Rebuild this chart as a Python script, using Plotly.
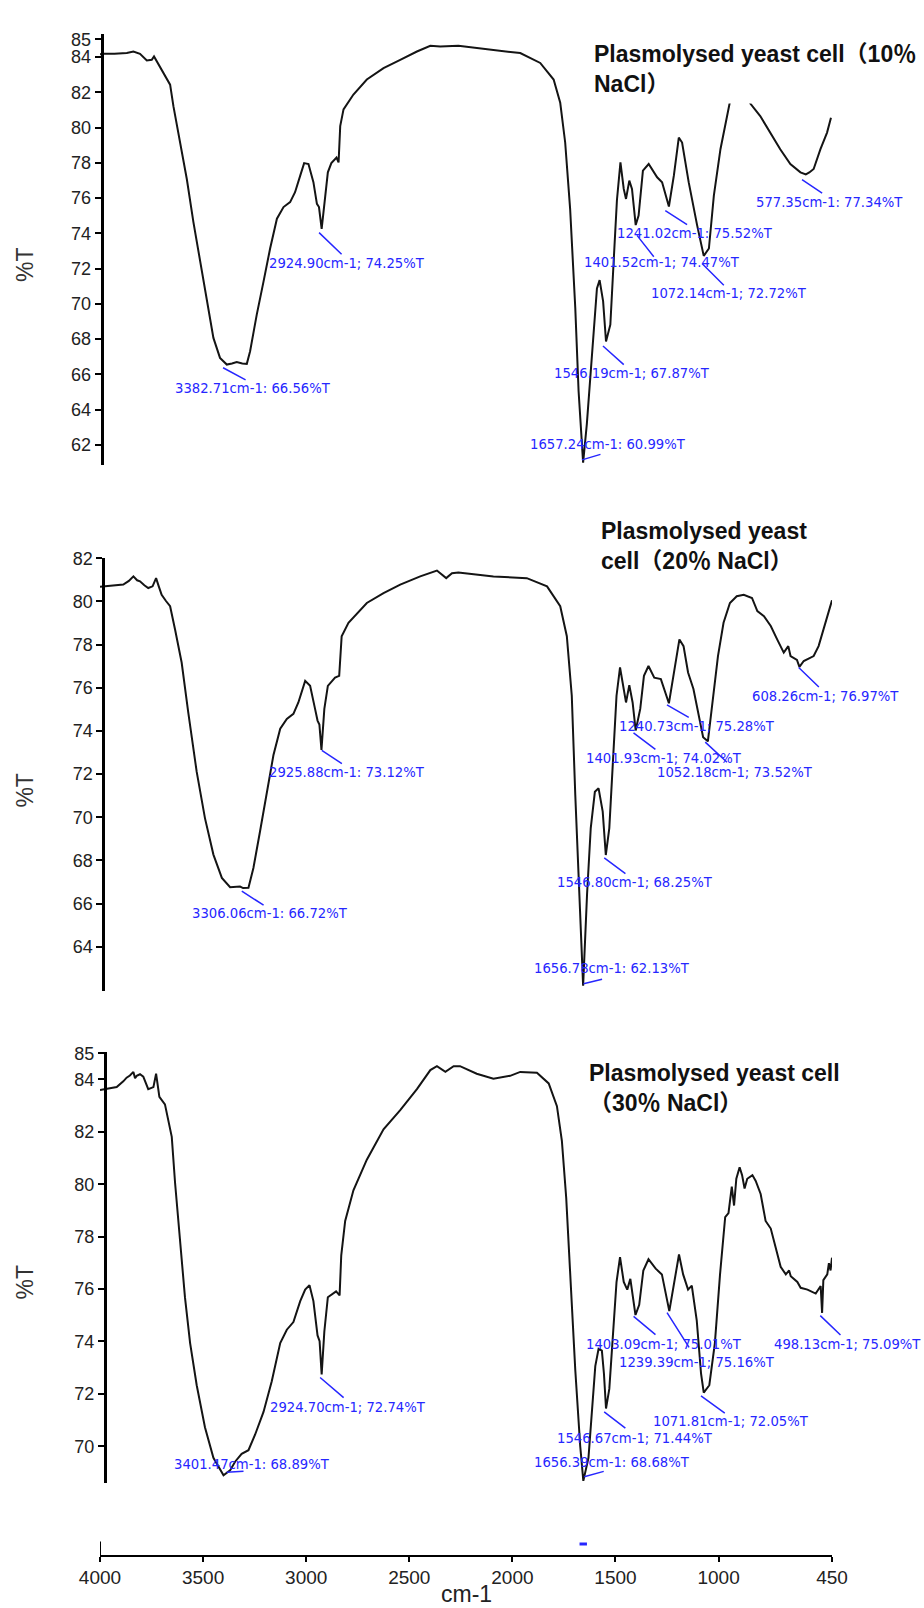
import plotly.graph_objects as go

# ---------------- data ----------------
wn1 = [4000, 3984, 3930, 3870, 3838, 3806, 3773, 3749, 3738, 3725, 3693, 3660, 3644, 3612, 3579, 3547,
       3515, 3482, 3450, 3418, 3385, 3360, 3337, 3310, 3288, 3272, 3240, 3207, 3175, 3142, 3110, 3078,
       3054, 3029, 3010, 2989, 2965, 2948, 2938, 2925, 2912, 2895, 2878, 2853, 2843, 2835, 2819, 2771,
       2706, 2625, 2544, 2463, 2398, 2350, 2262, 2092, 1962, 1865, 1800, 1768, 1744, 1720, 1695, 1679,
       1666, 1657, 1639, 1622, 1606, 1590, 1577, 1560, 1546, 1525, 1509, 1493, 1476, 1460, 1449, 1433,
       1420, 1402, 1388, 1367, 1339, 1298, 1274, 1241, 1217, 1193, 1177, 1145, 1104, 1072, 1047, 1023,
       991, 966, 946, 920, 895, 870, 846, 798, 749, 701, 652, 603, 577, 560, 539, 506, 474, 455]
t1 = [84.15, 84.18, 84.18, 84.22, 84.31, 84.18, 83.80, 83.84, 84.03, 83.75, 83.09, 82.43, 81.21, 79.15, 77.08, 74.64,
      72.39, 70.14, 68.07, 66.94, 66.56, 66.62, 66.70, 66.62, 66.60, 67.32, 69.38, 71.26, 73.14, 74.83, 75.49, 75.77,
      76.33, 77.27, 77.98, 77.93, 76.90, 75.67, 75.49, 74.25, 75.58, 77.46, 77.98, 78.30, 78.02, 80.08, 81.03, 81.87,
      82.72, 83.37, 83.84, 84.31, 84.63, 84.59, 84.63, 84.41, 84.22, 83.66, 82.72, 81.40, 79.15, 75.39, 69.76, 65.06,
      62.25, 61.00, 63.18, 66.00, 68.82, 70.88, 71.35, 70.14, 67.87, 68.82, 72.39, 75.89, 78.02, 76.52, 75.95, 76.99,
      76.52, 74.47, 75.01, 77.55, 77.93, 77.18, 76.90, 75.52, 77.27, 79.43, 79.15, 76.90, 74.45, 72.72, 73.14, 76.14,
      78.77, 80.28, 81.40, 82.30, 82.60, 82.20, 81.36, 80.65, 79.71, 78.77, 77.93, 77.46, 77.34, 77.45, 77.65, 78.77, 79.71, 80.56]

wn2 = [4000, 3976, 3930, 3887, 3860, 3838, 3820, 3806, 3785, 3766, 3745, 3728, 3715, 3701, 3680, 3660,
       3636, 3604, 3572, 3531, 3491, 3450, 3409, 3369, 3321, 3306, 3280, 3256, 3224, 3191, 3159, 3126,
       3094, 3062, 3038, 3005, 2981, 2957, 2945, 2936, 2926, 2912, 2895, 2860, 2840, 2828, 2795, 2706,
       2625, 2544, 2447, 2366, 2350, 2321, 2293, 2262, 2092, 1930, 1832, 1768, 1736, 1712, 1695, 1675,
       1664, 1657, 1638, 1620, 1600, 1582, 1562, 1547, 1530, 1513, 1495, 1478, 1460, 1449, 1433, 1417,
       1402, 1380, 1362, 1340, 1312, 1280, 1241, 1213, 1190, 1170, 1148, 1122, 1098, 1075, 1052, 1030,
       1003, 976, 945, 912, 878, 838, 812, 780, 747, 716, 684, 662, 651, 620, 608, 587, 539, 515, 482, 450]
t2 = [80.68, 80.70, 80.72, 80.78, 80.95, 81.16, 80.98, 80.93, 80.75, 80.62, 80.70, 81.08, 80.70, 80.31, 80.02, 79.78,
      78.70, 77.17, 74.86, 72.10, 69.96, 68.27, 67.19, 66.76, 66.79, 66.72, 66.73, 67.65, 69.34, 71.18, 72.87, 74.10,
      74.56, 74.79, 75.32, 76.32, 76.09, 75.02, 74.48, 74.30, 73.12, 75.02, 76.09, 76.47, 76.55, 78.39, 79.01, 79.93,
      80.39, 80.78, 81.16, 81.43, 81.31, 81.08, 81.31, 81.34, 81.16, 81.08, 80.70, 79.78, 78.39, 75.63, 71.03, 66.42,
      63.05, 62.20, 66.42, 69.50, 71.18, 71.34, 70.26, 68.25, 69.50, 72.56, 75.63, 76.94, 75.94, 75.32, 76.12, 75.32,
      74.02, 75.02, 76.55, 77.01, 76.47, 76.40, 75.28, 76.86, 78.24, 77.93, 76.71, 75.94, 74.71, 73.71, 73.52, 75.32,
      77.47, 79.01, 79.93, 80.24, 80.31, 80.16, 79.55, 79.32, 78.86, 78.24, 77.63, 77.93, 77.47, 77.29, 76.97, 77.24,
      77.47, 77.93, 79.01, 80.05]

wn3 = [4000, 3971, 3919, 3887, 3871, 3855, 3838, 3830, 3822, 3806, 3790, 3766, 3741, 3728, 3712, 3685,
       3669, 3652, 3636, 3612, 3588, 3563, 3531, 3491, 3450, 3401, 3369, 3345, 3313, 3280, 3248, 3207,
       3167, 3126, 3094, 3062, 3029, 3005, 2984, 2965, 2945, 2935, 2925, 2912, 2895, 2855, 2838, 2830,
       2811, 2771, 2706, 2625, 2544, 2463, 2398, 2366, 2325, 2285, 2254, 2173, 2092, 2011, 1962, 1881,
       1824, 1784, 1760, 1739, 1719, 1695, 1671, 1656, 1631, 1614, 1598, 1582, 1566, 1556, 1546, 1530,
       1513, 1495, 1478, 1460, 1443, 1428, 1403, 1385, 1365, 1340, 1305, 1275, 1239, 1212, 1192, 1172,
       1148, 1130, 1106, 1085, 1072, 1045, 1018, 993, 968, 952, 936, 925, 914, 898, 886, 874,
       861, 836, 820, 796, 772, 747, 723, 699, 674, 658, 650, 618, 602, 569, 529, 505,
       498, 492, 473, 465, 457, 450]
t3 = [83.60, 83.63, 83.71, 83.93, 84.07, 84.15, 84.29, 84.05, 84.14, 84.20, 84.11, 83.63, 83.71, 84.22, 83.34, 83.05,
      82.39, 81.81, 80.06, 78.02, 75.69, 73.94, 72.33, 70.73, 69.56, 68.89, 69.08, 69.41, 69.71, 69.85, 70.44, 71.31,
      72.48, 73.94, 74.45, 74.74, 75.54, 75.98, 76.15, 75.54, 74.23, 74.01, 72.74, 74.38, 75.69, 75.91, 75.76, 77.29,
      78.60, 79.77, 80.94, 82.10, 82.83, 83.63, 84.36, 84.51, 84.29, 84.51, 84.51, 84.22, 84.03, 84.14, 84.29, 84.26,
      83.85, 82.98, 81.66, 79.48, 76.56, 72.91, 70.00, 68.68, 69.56, 71.46, 73.06, 73.72, 73.65, 72.77, 71.44, 72.19,
      74.23, 76.27, 77.22, 76.27, 75.98, 76.39, 75.01, 75.40, 76.71, 77.14, 76.78, 76.56, 75.16, 76.41, 77.32, 76.56,
      75.98, 76.13, 74.81, 72.77, 72.05, 72.33, 73.94, 76.56, 78.75, 78.90, 79.91, 79.19, 80.21, 80.65, 80.35, 79.84,
      80.21, 80.35, 80.13, 79.63, 78.60, 78.31, 77.58, 76.85, 76.56, 76.71, 76.49, 76.27, 76.05, 75.98, 75.83, 76.12,
      75.09, 76.34, 76.56, 76.99, 76.71, 77.20]

# peak labels (wavenumber, %T, separator)
pk1_wn = [3382.71, 2924.90, 1657.24, 1546.19, 1401.52, 1241.02, 1072.14, 577.35]
pk1_t = [66.56, 74.25, 60.99, 67.87, 74.47, 75.52, 72.72, 77.34]
pk1_sep = [":", ";", ":", ";", ";", ":", ";", ":"]
pk2_wn = [2925.88, 3306.06, 1656.78, 1546.80, 1401.93, 1240.73, 1052.18, 608.26]
pk2_t = [73.12, 66.72, 62.13, 68.25, 74.02, 75.28, 73.52, 76.97]
pk2_sep = [":", ":", ":", ";", ";", ";", ";", ";"]
pk3_wn = [3401.47, 2924.70, 1656.39, 1546.67, 1403.09, 1239.39, 1071.81, 498.13]
pk3_t = [68.89, 72.74, 68.68, 71.44, 75.01, 75.16, 72.05, 75.09]
pk3_sep = [":", ";", ":", ";", ";", ";", ";", ";"]

x_ticks = [4000, 3500, 3000, 2500, 2000, 1500, 1000, 450]
y1_ticks = [62, 64, 66, 68, 70, 72, 74, 76, 78, 80, 82, 84, 85]
y2_ticks = [64, 66, 68, 70, 72, 74, 76, 78, 80, 82]
y3_ticks = [70, 72, 74, 76, 78, 80, 82, 84, 85]

titles = ["<b>Plasmolysed yeast cell（10％<br>NaCl）</b>",
          "<b>Plasmolysed yeast<br>cell（20％ NaCl）</b>",
          "<b>Plasmolysed yeast cell<br>（30％ NaCl）</b>"]

# ---------------- layout helpers (pixels) ----------------
W, H, L, R = 924, 1608, 100, 92
def pyp(p):
    return 1 - p / H
def pxp(p):
    return (p - L) / (W - L - R)

# label offsets: (start dx, start dy, line dx, line dy, text dx, text dy)
off1 = [(-4.2, 3.2, 24, 13, -54.2, 24.2), (-2.6, 3.7, 24, 23, -54.6, 34.7), (-1.1, -2.9, 20, -6, -54.8, -18.6),
        (-3, 4.5, 22.3, 20, -54, 32.2), (1.2, 10.3, 18.3, 23.3, -53.8, 37.6), (-3.6, 4, 23.3, 15, -53.6, 27.3),
        (-1.7, 7.6, 23.3, 23.3, -55.1, 37.6), (-3.7, 5.3, 21.6, 14.3, -52.1, 27.9)]
off2 = [(0.3, 0.4, 21.6, 14.3, -54.7, 22.7), (-1.3, 3.1, 23.3, 15, -53, 25.7), (0.4, -3.3, 20, -5, -51.2, -18.3),
        (-1.6, 2.9, 22.7, 16.7, -50.6, 27.3), (-2.2, 2.3, 23.4, 17.7, -52.2, 28.3), (-2, 1.6, 23.3, 13.4, -52, 23),
        (-2.6, 0.8, 23.3, 21.6, -52.6, 30.8), (-0.7, 0.7, 21.7, 21, -49.7, 29.7)]
off3 = [(3.3, -3.1, 18.3, -1.2, -51.7, -10.9), (-1.6, 3.0, 25, 21.4, -53.3, 33.3), (1, -4.1, 21, -5.8, -51.3, -18.8),
        (-1.7, 3.4, 22.7, 17.4, -50.7, 29.8), (-1.9, 1.4, 23.4, 19.4, -51.9, 29.3), (-2.2, 1.5, 23.3, 36.8, -52.2, 51.9),
        (-2.8, 3.3, 25.3, 18.3, -52.8, 29.3), (-1.8, 2.7, 21.7, 20.9, -50.1, 31.4)]

BLUE = "#2626ff"
LINE = "#141414"
TICKFONT = dict(family="Liberation Sans, Arial, sans-serif", size=18, color="#222")

fig = go.Figure()
for wn, t, ya in [(wn1, t1, "y"), (wn2, t2, "y2"), (wn3, t3, "y3")]:
    fig.add_trace(go.Scatter(x=wn, y=t, xaxis="x", yaxis=ya, mode="lines",
                             line=dict(color=LINE, width=2), showlegend=False, hoverinfo="skip"))

annotations = []
for pw, pt, ps, offs, yref in [(pk1_wn, pk1_t, pk1_sep, off1, "y"),
                               (pk2_wn, pk2_t, pk2_sep, off2, "y2"),
                               (pk3_wn, pk3_t, pk3_sep, off3, "y3")]:
    for w_, t_, s_, o in zip(pw, pt, ps, offs):
        sx, sy, dx, dy, tx, ty = o
        annotations.append(dict(x=w_, y=t_, xref="x", yref=yref, text=" ", font=dict(size=1),
                                showarrow=True, arrowhead=0, arrowwidth=1.5, arrowcolor=BLUE,
                                ax=dx, ay=dy, axref="pixel", ayref="pixel", standoff=0,
                                xshift=sx, yshift=-sy))
        annotations.append(dict(x=w_, y=t_, xref="x", yref=yref,
                                text=f"{w_:.2f}cm-1{s_} {t_:.2f}%T", showarrow=False,
                                xanchor="left", yanchor="middle", xshift=tx, yshift=-ty,
                                font=dict(family="DejaVu Sans, Verdana, sans-serif", size=13.2, color=BLUE)))

# titles
for txt, xl, yc in zip(titles, [592, 599, 587], [59, 539, 1084.5]):
    annotations.append(dict(x=pxp(xl), y=pyp(yc), xref="paper", yref="paper", text=txt, showarrow=False,
                            xanchor="left", yanchor="middle", align="left",
                            font=dict(family="Liberation Sans, Noto Sans CJK SC, sans-serif", size=23, color="#111"),
                            bgcolor="white"))

# %T labels
for yc in [256, 785, 1280]:
    annotations.append(dict(x=pxp(25.5), y=pyp(yc), xref="paper", yref="paper", text="%T", showarrow=False,
                            textangle=-90, xanchor="center", yanchor="middle",
                            font=dict(family="Liberation Sans, Arial, sans-serif", size=23, color="#333")))
# x axis title
annotations.append(dict(x=0.5, y=pyp(1594), xref="paper", yref="paper", text="cm-1", showarrow=False,
                        xanchor="center", yanchor="middle",
                        font=dict(family="Liberation Sans, Arial, sans-serif", size=23, color="#222")))

shapes = [
    dict(type="rect", xref="paper", yref="paper", x0=pxp(592), x1=pxp(924), y0=pyp(94), y1=pyp(0),
         fillcolor="white", line=dict(width=0), layer="above"),
    dict(type="line", xref="x", yref="paper", x0=pk3_wn[2] + 18, x1=pk3_wn[2] - 18,
         y0=pyp(1543.6), y1=pyp(1543.6), line=dict(color=BLUE, width=3)),
    dict(type="line", xref="x", yref="paper", x0=x_ticks[0], x1=x_ticks[0],
         y0=pyp(1541), y1=pyp(1561), line=dict(color="black", width=2)),
]

def yax(dom_px, rng, ticks, xpos):
    return dict(domain=[pyp(dom_px[1]), pyp(dom_px[0])], range=rng, anchor="free", position=pxp(xpos),
                showline=True, linecolor="black", linewidth=3, ticks="outside", ticklen=6, tickwidth=1.5,
                tickcolor="black", tickvals=ticks, ticktext=[str(v) for v in ticks], tickfont=TICKFONT,
                showgrid=False, zeroline=False, fixedrange=True)

fig.update_layout(
    width=W, height=H, margin=dict(l=L, r=R, t=0, b=0),
    paper_bgcolor="white", plot_bgcolor="white",
    xaxis=dict(domain=[0, 1], range=[4000, 450], anchor="free", position=pyp(1555.3),
               showline=True, linecolor="black", linewidth=2, ticks="outside", ticklen=5, tickwidth=1.5,
               tickcolor="black", tickvals=x_ticks, ticktext=[str(v) for v in x_ticks],
               tickfont=dict(family="Liberation Sans, Arial, sans-serif", size=19, color="#222"),
               showgrid=False, zeroline=False),
    yaxis=yax((24, 458.3), [60.84, 85.31], y1_ticks, 101.7),
    yaxis2=yax((551.7, 986.7), [61.97, 82.0], y2_ticks, 103.3),
    yaxis3=yax((1048.5, 1482.7), [68.58, 85.05], y3_ticks, 105),
    annotations=annotations, shapes=shapes,
)

fig.write_html("out.html", config={"displayModeBar": False},
               post_script="document.body.style.margin='0px';document.body.style.padding='0px';"
                           "document.body.style.overflow='hidden';")
